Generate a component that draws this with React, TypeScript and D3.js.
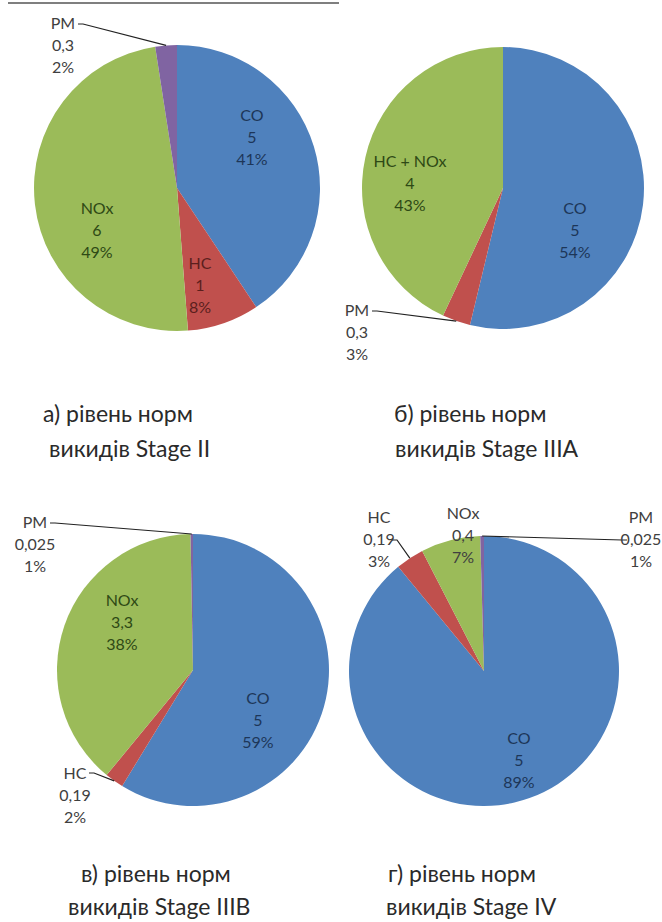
import React from 'react';
import * as d3 from 'd3';

const width = 662;
const height = 922;

// series colors (Excel 2007 palette)
const sliceColors = ['#4F81BD', '#C0504D', '#9BBB59', '#8064A2'];
const innerTextColors = ['#1d3658', '#5b1f1d', '#2e4915', '#3b2d52'];
const outerTextColor = '#404040';

// a) Stage II
const labelsA = ['CO', 'HC', 'NOx', 'PM'];
const valuesA = [5, 1, 6, 0.3];
const pctA = ['41%', '8%', '49%', '2%'];
const captionA = ['а) рівень норм', 'викидів Stage II'];

// б) Stage IIIA
const labelsB = ['CO', 'PM', 'HC + NOx'];
const valuesB = [5, 0.3, 4];
const pctB = ['54%', '3%', '43%'];
const captionB = ['б) рівень норм', 'викидів Stage IIIA'];

// в) Stage IIIB
const labelsC = ['CO', 'HC', 'NOx', 'PM'];
const valuesC = [5, 0.19, 3.3, 0.025];
const pctC = ['59%', '2%', '38%', '1%'];
const captionC = ['в) рівень норм', 'викидів Stage IIIB'];

// г) Stage IV
const labelsD = ['CO', 'HC', 'NOx', 'PM'];
const valuesD = [5, 0.19, 0.4, 0.025];
const pctD = ['89%', '3%', '7%', '1%'];
const captionD = ['г) рівень норм', 'викидів Stage IV'];

type Pt = [number, number];

interface IPieProps {
  labels: string[];
  values: number[];
  pcts: string[];
  caption: string[];
  cx: number;
  cy: number;
  r: number;
  labelPos: Pt[]; // label middle line, relative to center
  outside: boolean[];
  leaders: (Pt | null)[]; // leader start, relative to center
  captionX: number[];
  captionY: number[];
}

const fmt = (v: number) => String(v).replace('.', ',');

const PieChart = (props: IPieProps) => {
  const { labels, values, pcts, caption, cx, cy, r, labelPos, outside, leaders } =
    props;

  const pie = d3
    .pie<number>()
    .sort(null)
    .value((d) => d);
  const arcs = pie(values);
  const arc = d3.arc<d3.PieArcDatum<number>>().innerRadius(0).outerRadius(r);

  return (
    <g>
      <g transform={`translate(${cx},${cy})`}>
        {arcs.map((a, i) => (
          <path key={i} d={arc(a) || ''} fill={sliceColors[i]} />
        ))}
        {arcs.map((a, i) => {
          const start = leaders[i];
          if (!start) return null;
          const mid = (a.startAngle + a.endAngle) / 2;
          const ex = Math.sin(mid) * r;
          const ey = -Math.cos(mid) * r;
          const dir = ex > start[0] ? 1 : -1;
          return (
            <path
              key={'l' + i}
              d={`M${start[0]},${start[1]}h${dir * 5}L${ex},${ey}`}
              fill="none"
              stroke="#222"
              strokeWidth={1.2}
            />
          );
        })}
        {arcs.map((a, i) => {
          const [lx, ly] = labelPos[i];
          const color = outside[i] ? outerTextColor : innerTextColors[i];
          const lines = [labels[i], fmt(values[i]), pcts[i]];
          return (
            <text
              key={'t' + i}
              textAnchor="middle"
              fontFamily="Lato, 'Open Sans', sans-serif"
              fontSize={16}
              fill={color}
            >
              {lines.map((s, k) => (
                <tspan key={k} x={lx} y={ly + 5.5 + (k - 1) * 22}>
                  {s}
                </tspan>
              ))}
            </text>
          );
        })}
      </g>
      <text
        fontFamily="Lato, 'Open Sans', sans-serif"
        fontSize={23}
        fill="#2a2a2a"
      >
        {caption.map((s, k) => (
          <tspan key={k} x={props.captionX[k]} y={props.captionY[k]}>
            {s}
          </tspan>
        ))}
      </text>
    </g>
  );
};

export default function App() {
  return (
    <svg
      width={width}
      height={height}
      viewBox={`0 0 ${width} ${height}`}
      style={{ position: 'absolute', left: 0, top: 0, background: '#fff' }}
    >
      <line x1={8} x2={339} y1={3} y2={3} stroke="#555" strokeWidth={1.5} />

      <PieChart
        labels={labelsA}
        values={valuesA}
        pcts={pctA}
        caption={captionA}
        cx={177}
        cy={188}
        r={143}
        labelPos={[
          [75, -51],
          [23, 97],
          [-80, 42],
          [-114, -143],
        ]}
        outside={[false, false, false, true]}
        leaders={[null, null, null, [-99, -164]]}
        captionX={[43, 49]}
        captionY={[422, 457]}
      />
      <PieChart
        labels={labelsB}
        values={valuesB}
        pcts={pctB}
        caption={captionB}
        cx={503}
        cy={188}
        r={141}
        labelPos={[
          [72, 42],
          [-146, 144],
          [-93, -5],
        ]}
        outside={[false, true, false]}
        leaders={[null, [-131, 123], null]}
        captionX={[394, 395]}
        captionY={[422, 457]}
      />
      <PieChart
        labels={labelsC}
        values={valuesC}
        pcts={pctC}
        caption={captionC}
        cx={193}
        cy={670}
        r={136}
        labelPos={[
          [65, 50],
          [-118, 125],
          [-71, -48],
          [-158, -126],
        ]}
        outside={[false, true, false, true]}
        leaders={[null, [-104, 103], null, [-143, -147]]}
        captionX={[81, 68]}
        captionY={[882, 915]}
      />
      <PieChart
        labels={labelsD}
        values={valuesD}
        pcts={pctD}
        caption={captionD}
        cx={484}
        cy={671}
        r={135}
        labelPos={[
          [35, 89],
          [-105, -132],
          [-21, -136],
          [157, -132],
        ]}
        outside={[false, true, true, true]}
        leaders={[null, [-92, -131], null, [143, -131]]}
        captionX={[388, 386]}
        captionY={[882, 915]}
      />
    </svg>
  );
}
